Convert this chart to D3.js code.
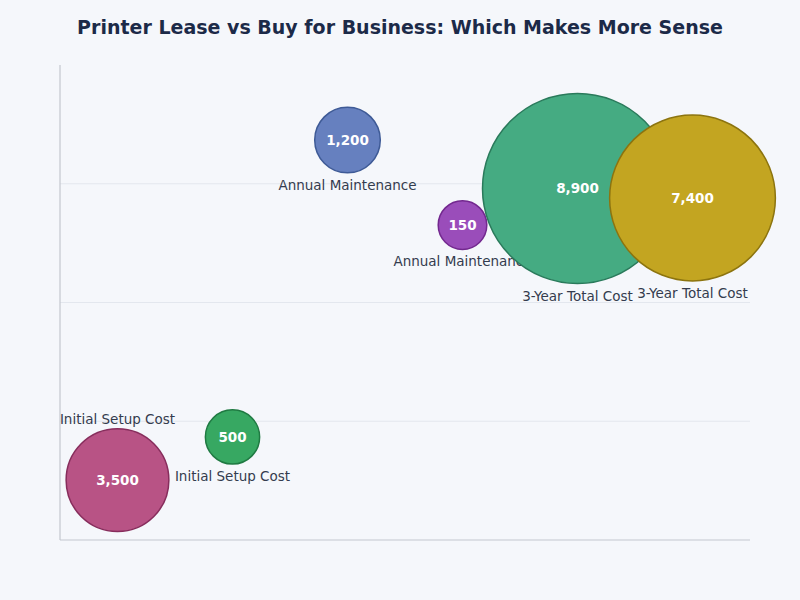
<!DOCTYPE html>
<html>
<head>
<meta charset="utf-8">
<script src="https://cdn.jsdelivr.net/npm/d3@7"></script>
<style>
  body { margin: 0; background: #f5f7fb; }
  svg { display: block; font-family: "DejaVu Sans", sans-serif; }
</style>
</head>
<body>
<div id="chart"></div>
<script>
// chart data
const categories = ["Initial Setup Cost", "Initial Setup Cost", "Annual Maintenance", "Annual Maintenance", "3-Year Total Cost", "3-Year Total Cost"];
const costs = [3500, 500, 1200, 150, 8900, 7400];
const scores = [12.6, 21.7, 84.2, 66.3, 74.0, 72.0];
const fills = ["#b85385", "#37a862", "#6680bf", "#9a4dba", "#45ab82", "#c3a521"];
const strokes = ["#872d5c", "#1f7a42", "#3e5a96", "#73288f", "#2a7a5b", "#8c740f"];
const yTicks = [25, 50, 75];

const width = 800, height = 600;
const margin = { top: 65, right: 50, bottom: 60, left: 60 };
const innerW = width - margin.left - margin.right;
const innerH = height - margin.top - margin.bottom;

const svg = d3.select("#chart").append("svg")
  .attr("width", width)
  .attr("height", height);

svg.append("rect").attr("width", width).attr("height", height).attr("fill", "#f5f7fb");

svg.append("text")
  .attr("x", width / 2)
  .attr("y", 34)
  .attr("text-anchor", "middle")
  .attr("font-size", 19)
  .attr("font-weight", "bold")
  .attr("fill", "#1c2a48")
  .text("Printer Lease vs Buy for Business: Which Makes More Sense");

const g = svg.append("g")
  .attr("transform", "translate(" + margin.left + "," + margin.top + ")");

const x = d3.scaleBand().domain(d3.range(costs.length)).range([0, innerW]);
const y = d3.scaleLinear().domain([0, 100]).range([innerH, 0]);
const r = d3.scaleLinear().domain([d3.min(costs), d3.max(costs)]).range([24.3, 95]);

// gridlines
g.selectAll(".grid")
  .data(yTicks)
  .enter().append("line")
  .attr("x1", 0)
  .attr("x2", innerW)
  .attr("y1", d => y(d))
  .attr("y2", d => y(d))
  .attr("stroke", "#e3e7ee")
  .attr("stroke-width", 1);

// axes
g.append("line").attr("x1", 0).attr("x2", 0).attr("y1", 0).attr("y2", innerH)
  .attr("stroke", "#c3c7cf").attr("stroke-width", 1.2);
g.append("line").attr("x1", 0).attr("x2", innerW).attr("y1", innerH).attr("y2", innerH)
  .attr("stroke", "#c3c7cf").attr("stroke-width", 1.2);

const bubbles = g.selectAll(".bubble")
  .data(costs)
  .enter().append("g")
  .attr("class", "bubble")
  .attr("transform", (d, i) => `translate(${x(i) + x.bandwidth() / 2},${y(scores[i])})`);

bubbles.append("circle")
  .attr("r", d => r(d))
  .attr("fill", (d, i) => fills[i])
  .attr("stroke", (d, i) => strokes[i])
  .attr("stroke-width", 1.5);

bubbles.append("text")
  .attr("text-anchor", "middle")
  .attr("dy", "0.35em")
  .attr("font-size", 13.5)
  .attr("font-weight", "bold")
  .attr("fill", "#ffffff")
  .text(d => d3.format(",")(d));

// category label below the bubble, or above when it would run past the axis
bubbles.append("text")
  .attr("text-anchor", "middle")
  .attr("font-size", 13.5)
  .attr("fill", "#343c4e")
  .attr("y", (d, i) => {
    const below = y(scores[i]) + r(d) + 17;
    return below > innerH ? -r(d) - 5 : r(d) + 17;
  })
  .text((d, i) => categories[i]);
</script>
</body>
</html>
